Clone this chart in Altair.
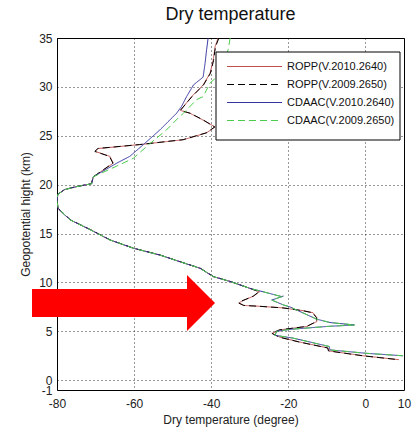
import altair as alt
import pandas as pd

series_names = ["ROPP(V.2010.2640)", "ROPP(V.2009.2650)", "CDAAC(V.2010.2640)", "CDAAC(V.2009.2650)"]
series_colors = ["#c0504d", "#000000", "#3535a0", "#4ccc4c"]
series_dash = [[1, 0], [7, 4], [1, 0], [7, 4]]

# ROPP 2010 (temperature in degree, height in km), along the profile from top to bottom
ropp10_t = [-38.2, -39.0, -39.5, -40.3, -42.1, -45.1, -48.0, -45.5, -42.1, -39.0, -41.2, -47.2, -58.5, -69.3, -70.1,
            -66.3, -65.4, -70.6, -71.0, -74.9, -78.0, -79.8, -80.0, -79.6, -76.6, -71.4, -66.3, -60.2, -53.3, -47.2,
            -42.9, -39.5, -35.1, -30.0, -27.5, -29.0, -32.0, -32.8, -31.5, -27.0, -21.4, -16.0, -13.6, -12.6, -12.6,
            -15.2, -22.2, -24.2, -22.2, -17.0, -9.7, -9.5, -0.6, 8.7]
ropp10_h = [35.0, 34.1, 32.7, 31.4, 30.2, 29.0, 27.6, 27.3, 26.6, 25.9, 25.3, 24.6, 24.1, 23.7, 23.4,
            22.9, 22.2, 20.8, 20.1, 19.8, 19.5, 19.0, 18.2, 17.5, 16.4, 15.4, 14.35, 13.5, 12.8, 12.0,
            11.45, 10.6, 10.1, 9.4, 9.05, 8.6, 8.1, 7.9, 7.65, 7.55, 7.4, 7.1, 6.9, 6.4, 6.0,
            5.5, 5.15, 4.8, 4.4, 3.9, 3.3, 3.0, 2.5, 2.1]

# ROPP 2009
ropp09_t = [-38.0, -38.9, -39.4, -40.2, -42.0, -45.0, -48.0, -45.4, -42.0, -39.1, -41.3, -47.3, -58.6, -69.4, -70.2,
            -66.4, -65.5, -70.6, -71.1, -75.0, -78.1, -79.8, -80.0, -79.5, -76.5, -71.3, -66.2, -60.1, -53.2, -47.1,
            -42.8, -39.4, -35.0, -30.0, -27.6, -29.1, -32.1, -32.9, -31.6, -27.1, -21.5, -16.1, -13.7, -12.7, -12.7,
            -15.3, -22.3, -24.3, -22.3, -17.1, -9.8, -9.6, -0.7, 8.6]
ropp09_h = ropp10_h

# CDAAC 2010
cdaac10_t = [-40.8, -41.2, -41.6, -42.1, -44.6, -46.4, -47.7, -49.0, -53.3, -57.6, -61.1, -64.5, -70.6, -71.0, -74.9,
             -78.0, -79.8, -80.0, -79.6, -76.6, -71.4, -66.3, -60.2, -53.3, -47.2, -42.9, -39.5, -35.1, -30.0, -21.7,
             -21.3, -24.3, -21.3, -19.6, -12.7, -9.2, -2.9, -10.0, -19.6, -23.0, -23.5, -18.7, -9.4, -9.2, 0.3, 9.7]
cdaac10_h = [35.0, 33.8, 32.4, 31.0, 30.2, 29.0, 28.0, 27.3, 25.6, 24.1, 22.9, 22.2, 20.8, 20.1, 19.8,
             19.5, 19.0, 18.2, 17.5, 16.4, 15.4, 14.35, 13.5, 12.8, 12.0, 11.45, 10.6, 10.1, 9.4, 8.55,
             8.6, 8.2, 7.7, 7.5, 6.25, 5.9, 5.65, 5.5, 5.2, 5.0, 4.6, 4.3, 3.45, 3.1, 2.75, 2.5]

# CDAAC 2009
cdaac09_t = [-35.1, -35.6, -37.3, -38.6, -40.3, -42.1, -43.8, -47.2, -48.1, -51.6, -55.9, -60.2, -64.5, -70.6, -71.0,
             -74.9, -78.0, -79.8, -80.0, -79.6, -76.6, -71.4, -66.3, -60.2, -53.3, -47.2, -42.9, -39.5, -35.1, -30.0,
             -21.7, -21.3, -24.3, -21.3, -19.6, -12.7, -9.2, -2.7, -10.0, -19.6, -23.0, -23.5, -18.7, -9.4, -9.2,
             0.3, 9.7]
cdaac09_h = [35.0, 33.8, 32.1, 31.0, 30.4, 29.0, 28.7, 27.3, 27.0, 25.6, 24.2, 22.7, 21.9, 20.8, 20.1,
             19.8, 19.5, 19.0, 18.2, 17.5, 16.4, 15.4, 14.35, 13.5, 12.8, 12.0, 11.45, 10.6, 10.1, 9.4,
             8.55, 8.6, 8.2, 7.7, 7.5, 6.25, 5.9, 5.65, 5.5, 5.2, 5.0, 4.6, 4.3, 3.45, 3.1,
             2.75, 2.5]

x_ticks = [-80, -60, -40, -20, 0, 10]
y_ticks = [-1, 0, 5, 10, 15, 20, 25, 30, 35]

FONT = "Liberation Sans"
W, H = 347, 352

profiles = [(ropp10_t, ropp10_h), (ropp09_t, ropp09_h), (cdaac10_t, cdaac10_h), (cdaac09_t, cdaac09_h)]

x_scale = alt.Scale(domain=[-80, 10], nice=False, zero=False)
y_scale = alt.Scale(domain=[-1, 35], nice=False, zero=False)

x_axis = alt.Axis(values=x_ticks, title="Dry temperature (degree)", grid=True, gridDash=[1, 3],
                  gridColor="#000", gridOpacity=0.8, tickSize=0, labelPadding=8, titlePadding=5,
                  domain=False, labelFlush=False, labelExpr="toString(datum.value)",
                  labelFontSize=12, titleFontSize=12, labelFont=FONT, titleFont=FONT,
                  labelColor="#222", titleColor="#222", titleFontWeight="normal")
y_axis = alt.Axis(values=y_ticks, title="Geopotential hight (km)", grid=True, gridDash=[1, 3],
                  gridColor="#000", gridOpacity=0.8, tickSize=0, labelPadding=5, titlePadding=6,
                  domain=False, labelOverlap=False, labelFlush=False, labelExpr="toString(datum.value)",
                  labelFontSize=12, titleFontSize=12,
                  labelFont=FONT, titleFont=FONT, labelColor="#222", titleColor="#222",
                  titleFontWeight="normal")

layers = []
for i, (name, col, dash, (ts, hs)) in enumerate(zip(series_names, series_colors, series_dash, profiles)):
    df = pd.DataFrame({"T": ts, "h": hs, "idx": range(len(ts)), "series": name})
    layers.append(
        alt.Chart(df).mark_line(color=col, strokeWidth=1, strokeDash=dash, clip=True).encode(
            x=alt.X("T:Q", scale=x_scale, axis=x_axis),
            y=alt.Y("h:Q", scale=y_scale, axis=y_axis),
            order="idx:Q",
        )
    )

# red annotation arrow
arrow_df = pd.DataFrame({"a": [0]})
shaft = alt.Chart(arrow_df).mark_rect(color="#ff0000").encode(
    x=alt.value(-25), x2=alt.value(131), y=alt.value(251), y2=alt.value(279))
head = alt.Chart(arrow_df).mark_point(
    shape="M -0.5 -1 L 0.5 0 L -0.5 1 Z", size=3136, filled=True, color="#ff0000", opacity=1,
    strokeWidth=0).encode(x=alt.value(144), y=alt.value(265))

# legend box
leg_x0, leg_y0, leg_x1, leg_y1 = 159, 14, 343, 102
box = alt.Chart(arrow_df).mark_rect(fill="white", stroke="black", strokeWidth=1).encode(
    x=alt.value(leg_x0), x2=alt.value(leg_x1), y=alt.value(leg_y0), y2=alt.value(leg_y1))
leg_layers = [box]
for i, (name, col, dash) in enumerate(zip(series_names, series_colors, series_dash)):
    yy = 28.5 + i * 18
    d = pd.DataFrame({"label": [name]})
    leg_layers.append(alt.Chart(d).mark_rule(color=col, strokeWidth=1.2, strokeDash=dash).encode(
        x=alt.value(170), x2=alt.value(225), y=alt.value(yy)))
    leg_layers.append(alt.Chart(d).mark_text(align="left", baseline="middle", font=FONT, fontSize=11,
                                             color="#111").encode(
        x=alt.value(230), y=alt.value(yy), text="label:N"))

chart = alt.layer(*layers, shaft, head, *leg_layers).properties(
    width=W, height=H,
    background="white",
    title=alt.TitleParams("Dry temperature", fontSize=18, font=FONT, fontWeight="normal",
                          color="#111", offset=8, anchor="middle"),
    autosize=alt.AutoSizeParams(type="none"),
    padding={"left": 57, "top": 38, "right": 9, "bottom": 46},
).configure_view(stroke="#000", strokeWidth=1)

chart.save("out.html", embed_options={"renderer": "svg", "actions": False})
